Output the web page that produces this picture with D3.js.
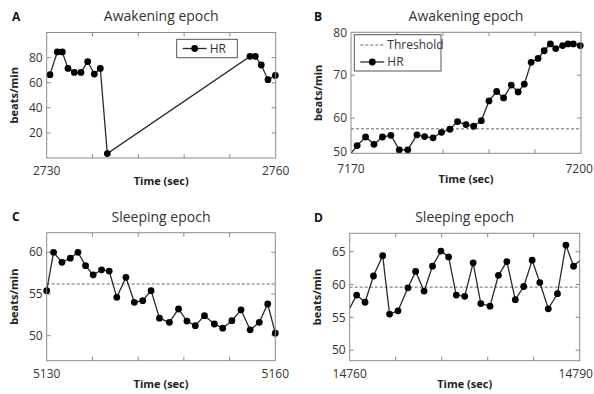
<!DOCTYPE html>
<html>
<head>
<meta charset="utf-8">
<script src="https://cdn.jsdelivr.net/npm/d3@7"></script>
<style>
  body { margin: 0; background: #fff; }
  svg { display: block; font-family: "Open Sans", "Noto Sans", sans-serif; }
</style>
</head>
<body>
<svg id="fig" width="594" height="394"></svg>
<script>
// Panel A - awakening epoch, 2730..2760 s
const timeA = [2730.43, 2731.39, 2732.04, 2732.79, 2733.62, 2734.49, 2735.37, 2736.24, 2737.02, 2737.94,
               2756.63, 2757.33, 2758.11, 2758.99, 2759.95];
const hrA   = [66.4, 84.5, 84.5, 71.4, 68.2, 68.2, 76.8, 66.9, 71.4, 3.5,
               81.0, 81.0, 74.1, 62.4, 65.8];

// Panel B - awakening epoch, 7170..7200 s
const timeB = [7169.75, 7170.8, 7171.9, 7173.0, 7174.1, 7175.2, 7176.3, 7177.4, 7178.6, 7179.6, 7180.7,
               7181.8, 7182.9, 7183.9, 7185.0, 7186.0, 7187.0, 7188.0, 7189.0, 7189.9, 7190.9,
               7191.8, 7192.6, 7193.5, 7194.4, 7195.2, 7196.0, 7196.7, 7197.6, 7198.3, 7199.0, 7199.9];
const hrB   = [51.2, 53.6, 55.6, 53.9, 55.6, 56.0, 52.6, 52.6, 56.1, 55.7, 55.4,
               56.7, 57.4, 59.2, 58.5, 58.1, 59.4, 64.0, 66.2, 64.7, 67.7,
               66.1, 67.9, 73.0, 73.9, 75.7, 77.3, 76.2, 76.9, 77.3, 77.3, 76.9];
const thresholdB = 57.5;

// Panel C - sleeping epoch, 5130..5160 s
const timeC = [5130.0, 5130.9, 5132.0, 5133.1, 5134.1, 5135.1, 5136.1, 5137.2, 5138.2, 5139.2,
               5140.4, 5141.5, 5142.6, 5143.7, 5144.8, 5146.1, 5147.3, 5148.4, 5149.5, 5150.7,
               5152.0, 5153.1, 5154.3, 5155.5, 5156.7, 5157.9, 5159.0, 5160.0];
const hrC   = [55.4, 60.0, 58.8, 59.3, 60.0, 58.4, 57.3, 57.9, 57.75, 54.6,
               57.0, 54.0, 54.2, 55.4, 52.1, 51.6, 53.2, 51.75, 51.2, 52.4,
               51.4, 50.9, 51.8, 53.1, 50.7, 51.6, 53.8, 50.3];
const thresholdC = 56.2;

// Panel D - sleeping epoch, 14760..14790 s
const timeD = [14759.75, 14760.9, 14762.0, 14763.1, 14764.3, 14765.2, 14766.3, 14767.6, 14768.6, 14769.7,
               14770.8, 14771.9, 14772.9, 14773.9, 14775.0, 14776.1, 14777.1, 14778.3, 14779.4,
               14780.5, 14781.6, 14782.7, 14783.8, 14784.8, 14785.9, 14787.1, 14788.2, 14789.2, 14790.25];
const hrD   = [55.8, 58.4, 57.3, 61.3, 64.4, 55.5, 56.0, 59.5, 62.0, 59.0,
               62.8, 65.1, 64.2, 58.4, 58.2, 63.3, 57.1, 56.7, 61.4,
               63.5, 57.7, 59.7, 63.7, 60.3, 56.3, 58.6, 66.0, 62.8, 63.9];
const thresholdD = 59.6;

// axis ticks
const yTicksA = [20, 40, 60, 80];
const yTicksB = [50, 60, 70, 80];
const yTicksC = [50, 55, 60];
const yTicksD = [50, 55, 60, 65];

const svg = d3.select("#fig");
const W = 594;
const boxColor = "#8a8a8a";
const textColor = "#333";

function drawPanel(p) {

	const x = d3.scaleLinear().domain(p.xDomain).range([p.left, p.right]);
	const y = d3.scaleLinear().domain(p.yDomain).range([p.bottom, p.top]);
	const pts = p.time.map((t, i) => ({ t: t, v: p.hr[i] }));
	const xGap = p.xGap || 13;

	const g = svg.append("g");

	// clip for the HR line
	const clipId = "clip-" + p.letter;
	g.append("clipPath").attr("id", clipId)
	  .append("rect")
		.attr("x", p.left).attr("y", p.top)
		.attr("width", p.right - p.left).attr("height", p.bottom - p.top);

	// inward ticks on all four sides, like a matlab box
	const xTicks = d3.range(p.xDomain[0], p.xDomain[1] + 0.01, 6).slice(1, -1);
	const tick = 4;
	const tg = g.append("g").attr("stroke", boxColor);
	xTicks.forEach(d => {
		tg.append("line").attr("x1", x(d)).attr("x2", x(d))
			.attr("y1", p.bottom).attr("y2", p.bottom - tick);
		tg.append("line").attr("x1", x(d)).attr("x2", x(d))
			.attr("y1", p.top).attr("y2", p.top + tick);
	});
	p.yTicks.filter(v => y(v) < p.bottom - 1 && y(v) > p.top + 1).forEach(d => {
		tg.append("line").attr("x1", p.left).attr("x2", p.left + tick)
			.attr("y1", y(d)).attr("y2", y(d));
		tg.append("line").attr("x1", p.right).attr("x2", p.right - tick)
			.attr("y1", y(d)).attr("y2", y(d));
	});

	// y tick labels (a label below the range sits on the bottom edge)
	g.selectAll("text.ylab")
		.data(p.yTicks)
		.join("text")
		.attr("class", "ylab")
		.attr("x", p.left - 4)
		.attr("y", d => Math.min(y(d), p.bottom - 2))
		.attr("dy", "0.35em")
		.attr("text-anchor", "end")
		.attr("font-size", 12)
		.attr("fill", textColor)
		.text(d => d);

	// x tick labels: only the ends
	g.selectAll("text.xlab")
		.data(p.xDomain)
		.join("text")
		.attr("class", "xlab")
		.attr("x", d => x(d))
		.attr("y", p.bottom + xGap)
		.attr("dy", "0.35em")
		.attr("text-anchor", "middle")
		.attr("font-size", 12)
		.attr("fill", textColor)
		.text(d => d)
		.each(function() {
			// keep the right-hand label inside the page
			const b = this.getBBox();
			if (b.x + b.width > W - 1) {
				d3.select(this).attr("x", +d3.select(this).attr("x") - (b.x + b.width - (W - 1)));
			}
		});

	// threshold
	if (p.threshold != null) {
		g.append("line")
			.attr("x1", p.left).attr("x2", p.right)
			.attr("y1", y(p.threshold)).attr("y2", y(p.threshold))
			.attr("stroke", "#666")
			.attr("stroke-width", 1)
			.attr("stroke-dasharray", "3,2");
	}

	// HR line + markers
	g.append("path")
		.datum(pts)
		.attr("clip-path", "url(#" + clipId + ")")
		.attr("fill", "none")
		.attr("stroke", "#2a2a2a")
		.attr("stroke-width", 1.3)
		.attr("d", d3.line().x(d => x(d.t)).y(d => y(d.v)));

	g.selectAll("circle")
		.data(pts.filter(d => d.t >= p.xDomain[0] && d.t <= p.xDomain[1]))
		.join("circle")
		.attr("cx", d => x(d.t))
		.attr("cy", d => y(d.v))
		.attr("r", 3.4)
		.attr("fill", "#000");

	// box
	g.append("rect")
		.attr("x", p.left).attr("y", p.top)
		.attr("width", p.right - p.left).attr("height", p.bottom - p.top)
		.attr("fill", "none")
		.attr("stroke", boxColor)
		.attr("stroke-width", 1);

	// title, letter, axis labels
	g.append("text")
		.attr("x", (p.left + p.right) / 2).attr("y", p.top - 16)
		.attr("dy", "0.35em")
		.attr("text-anchor", "middle")
		.attr("font-size", 14)
		.attr("fill", textColor)
		.text(p.title);

	g.append("text")
		.attr("x", p.letterX).attr("y", p.top - 16)
		.attr("dy", "0.35em")
		.attr("font-size", 12)
		.attr("font-weight", "bold")
		.attr("fill", "#111")
		.text(p.letter);

	g.append("text")
		.attr("x", (p.left + p.right) / 2).attr("y", p.bottom + xGap + 10)
		.attr("dy", "0.35em")
		.attr("text-anchor", "middle")
		.attr("font-size", 11)
		.attr("font-weight", "bold")
		.attr("fill", "#222")
		.text("Time (sec)");

	g.append("text")
		.attr("transform", "translate(" + (p.left - 33) + "," + ((p.top + p.bottom) / 2) + ") rotate(-90)")
		.attr("dy", "0.35em")
		.attr("text-anchor", "middle")
		.attr("font-size", 11)
		.attr("font-weight", "bold")
		.attr("fill", "#222")
		.text("beats/min");

	// legend
	if (p.legend) {
		const L = p.legend;
		const lg = g.append("g");
		lg.append("rect")
			.attr("x", L.x).attr("y", L.y).attr("width", L.w).attr("height", L.h)
			.attr("fill", "#fff").attr("stroke", "#555").attr("stroke-width", 1);
		L.items.forEach((it, i) => {
			const cy = L.y + L.pad + i * 17;
			lg.append("line")
				.attr("x1", L.x + 6).attr("x2", L.x + 30)
				.attr("y1", cy).attr("y2", cy)
				.attr("stroke", it.dashed ? "#666" : "#2a2a2a")
				.attr("stroke-width", it.dashed ? 1 : 1.3)
				.attr("stroke-dasharray", it.dashed ? "3,2" : null);
			if (!it.dashed) {
				lg.append("circle").attr("cx", L.x + 18).attr("cy", cy).attr("r", 3.4).attr("fill", "#000");
			}
			lg.append("text")
				.attr("x", L.x + 33).attr("y", cy)
				.attr("dy", "0.35em")
				.attr("font-size", 12)
				.attr("fill", textColor)
				.text(it.label);
		});
	}
}

drawPanel({
	letter: "A", letterX: 12, title: "Awakening epoch",
	time: timeA, hr: hrA, threshold: null,
	xDomain: [2730, 2760], yDomain: [0, 100], yTicks: yTicksA,
	left: 46.7, right: 275.7, top: 32.5, bottom: 158,
	legend: { x: 176.7, y: 39.3, w: 60.6, h: 18.4, pad: 9.2, items: [{ label: "HR" }] }
});

drawPanel({
	letter: "B", letterX: 314, title: "Awakening epoch",
	time: timeB, hr: hrB, threshold: thresholdB,
	xDomain: [7170, 7200], yDomain: [51.8, 80], yTicks: yTicksB,
	left: 351, right: 581, top: 32.3, bottom: 153.3, xGap: 15.5,
	legend: { x: 354.3, y: 34.7, w: 86.7, h: 36.3, pad: 10.3,
	          items: [{ label: "Threshold", dashed: true }, { label: "HR" }] }
});

drawPanel({
	letter: "C", letterX: 12, title: "Sleeping epoch",
	time: timeC, hr: hrC, threshold: thresholdC,
	xDomain: [5130, 5160], yDomain: [47, 62.35], yTicks: yTicksC,
	left: 46.7, right: 275.3, top: 232.7, bottom: 360.7,
	legend: null
});

drawPanel({
	letter: "D", letterX: 314, title: "Sleeping epoch",
	time: timeD, hr: hrD, threshold: thresholdD,
	xDomain: [14760, 14790], yDomain: [48.4, 67.8], yTicks: yTicksD,
	left: 349.7, right: 579.7, top: 233.3, bottom: 360.7,
	legend: null
});
</script>
</body>
</html>
